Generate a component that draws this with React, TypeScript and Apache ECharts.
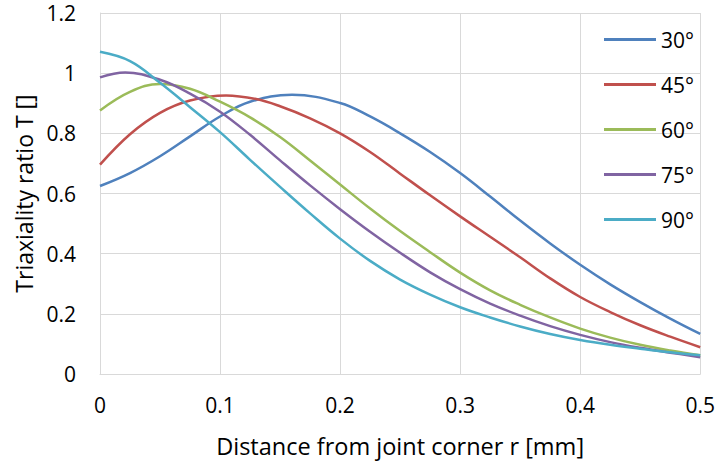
import React, { useEffect, useRef } from "react";
import * as echarts from "echarts";

const seriesNames = ["30°", "45°", "60°", "75°", "90°"];

const x30 = [0, 0.025, 0.05, 0.075, 0.1, 0.125, 0.16, 0.2, 0.225, 0.25, 0.275, 0.3, 0.325, 0.35, 0.375, 0.4, 0.425, 0.45, 0.475, 0.5];
const t30 = [0.625, 0.668, 0.724, 0.79, 0.856, 0.905, 0.928, 0.901, 0.856, 0.8, 0.738, 0.668, 0.59, 0.51, 0.434, 0.363, 0.298, 0.239, 0.184, 0.133];

const x45 = [0, 0.025, 0.05, 0.075, 0.105, 0.13, 0.15, 0.175, 0.2, 0.225, 0.25, 0.275, 0.3, 0.325, 0.35, 0.375, 0.4, 0.425, 0.45, 0.475, 0.5];
const t45 = [0.696, 0.797, 0.868, 0.909, 0.926, 0.914, 0.89, 0.85, 0.8, 0.738, 0.666, 0.594, 0.524, 0.456, 0.388, 0.318, 0.256, 0.206, 0.162, 0.124, 0.089];

const x60 = [0, 0.025, 0.05, 0.075, 0.1, 0.125, 0.15, 0.175, 0.2, 0.225, 0.25, 0.275, 0.3, 0.325, 0.35, 0.375, 0.4, 0.425, 0.45, 0.475, 0.5];
const t60 = [0.876, 0.938, 0.964, 0.948, 0.905, 0.853, 0.788, 0.71, 0.63, 0.55, 0.475, 0.405, 0.337, 0.278, 0.23, 0.188, 0.151, 0.121, 0.097, 0.078, 0.062];

const x75 = [0, 0.021, 0.05, 0.075, 0.1, 0.125, 0.15, 0.175, 0.2, 0.225, 0.25, 0.275, 0.3, 0.325, 0.35, 0.375, 0.4, 0.425, 0.45, 0.475, 0.5];
const t75 = [0.986, 1.002, 0.978, 0.932, 0.872, 0.795, 0.71, 0.627, 0.548, 0.473, 0.403, 0.338, 0.282, 0.234, 0.194, 0.159, 0.13, 0.106, 0.087, 0.071, 0.056];

const x90 = [0, 0.025, 0.05, 0.075, 0.1, 0.125, 0.15, 0.175, 0.2, 0.225, 0.25, 0.275, 0.3, 0.325, 0.35, 0.375, 0.4, 0.425, 0.45, 0.475, 0.5];
const t90 = [1.071, 1.04, 0.968, 0.887, 0.804, 0.712, 0.622, 0.534, 0.45, 0.376, 0.314, 0.264, 0.222, 0.188, 0.158, 0.133, 0.113, 0.097, 0.084, 0.072, 0.062];

const allX = [x30, x45, x60, x75, x90];
const allY = [t30, t45, t60, t75, t90];
const colors = ["#4F81BD", "#C0504D", "#9BBB59", "#8064A2", "#4BACC6"];

const FONT = "'Open Sans', 'Liberation Sans', sans-serif";
const GRID_COLOR = "#D9D9D9";

export default function App() {
  const ref = useRef<HTMLDivElement>(null);
  useEffect(() => {
    if (!ref.current) return;
    const chart = echarts.init(ref.current, undefined, { renderer: "svg" });
    chart.setOption({
      animation: false,
      backgroundColor: "#FFFFFF",
      textStyle: { fontFamily: FONT, color: "#000" },
      color: colors,
      grid: { left: 100, right: 15, top: 13, bottom: 86, containLabel: false },
      legend: {
        orient: "vertical",
        left: 599,
        top: 24,
        itemWidth: 52,
        itemHeight: 3,
        itemGap: 24,
        icon: "rect",
        data: seriesNames,
        textStyle: { fontFamily: FONT, fontSize: 21, color: "#000", lineHeight: 21 },
      },
      xAxis: {
        type: "value",
        min: 0,
        max: 0.5,
        interval: 0.1,
        name: "Distance from joint corner r [mm]",
        nameLocation: "middle",
        nameGap: 60,
        nameTextStyle: { fontFamily: FONT, fontSize: 23.5, color: "#000" },
        axisLine: { show: true, lineStyle: { color: GRID_COLOR, width: 1 } },
        axisTick: { show: false },
        axisLabel: { fontFamily: FONT, fontSize: 21, color: "#000", margin: 20 },
        splitLine: { show: true, lineStyle: { color: GRID_COLOR, width: 1 } },
      },
      yAxis: {
        type: "value",
        min: 0,
        max: 1.2,
        interval: 0.2,
        name: "Triaxiality ratio T []",
        nameLocation: "middle",
        nameGap: 62,
        nameTextStyle: { fontFamily: FONT, fontSize: 23, color: "#000" },
        axisLine: { show: true, lineStyle: { color: GRID_COLOR, width: 1 } },
        axisTick: { show: false },
        axisLabel: { fontFamily: FONT, fontSize: 21, color: "#000", margin: 24 },
        splitLine: { show: true, lineStyle: { color: GRID_COLOR, width: 1 } },
      },
      series: seriesNames.map((name, i) => ({
        name,
        type: "line",
        smooth: 0.4,
        showSymbol: false,
        symbol: "none",
        lineStyle: { width: 2.5, color: colors[i] },
        itemStyle: { color: colors[i] },
        data: allX[i].map((x, j) => [x, allY[i][j]]),
      })),
    });
    return () => chart.dispose();
  }, []);
  return (
    <div
      ref={ref}
      style={{ position: "fixed", left: 0, top: 0, width: 718, height: 463 }}
    />
  );
}
